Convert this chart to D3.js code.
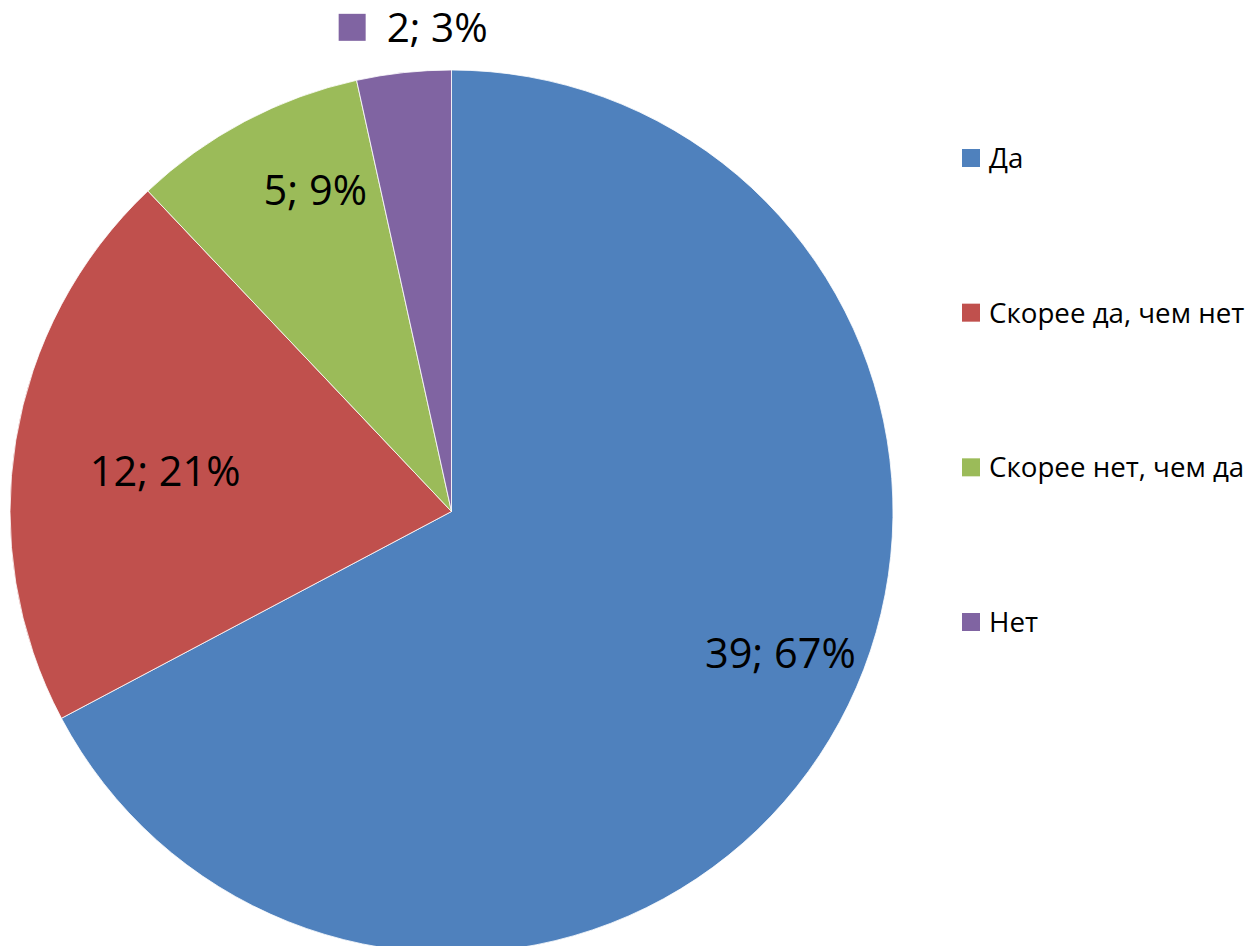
<!DOCTYPE html>
<html><head><meta charset="utf-8">
<script src="https://cdn.jsdelivr.net/npm/d3@7"></script>
<style>html,body{margin:0;padding:0;background:#fff;}svg{display:block;}</style>
</head><body>
<svg id="chart" width="1250" height="946"></svg>
<script>
const categories = ["Да", "Скорее да, чем нет", "Скорее нет, чем да", "Нет"];
const values = [39, 12, 5, 2];
const percentLabels = ["67%", "21%", "9%", "3%"];
const colors = ["#4F81BD", "#C0504D", "#9BBB59", "#8064A2"];

const svg = d3.select("#chart");
const cx = 451.5, cy = 511.5, R = 441.5;
const FONT = "'Open Sans', 'Noto Sans', sans-serif";

const pie = d3.pie().sort(null).value(d => d)(values);
const arc = d3.arc().innerRadius(0).outerRadius(R);

const g = svg.append("g").attr("transform", `translate(${cx},${cy})`);
g.selectAll("path.slice").data(pie).join("path")
  .attr("class", "slice")
  .attr("d", arc)
  .attr("fill", (d, i) => colors[i])
  .attr("stroke", "#fff").attr("stroke-width", 0.8);

// label layout (Excel best-fit style): angle in degrees clockwise from top, radius fraction
const labelLayout = [
  {a: 113.3, r: 0.811, outside: false},
  {a: 278.0, r: 0.655, outside: false},
  {a: 337.0, r: 0.790, outside: false},
  {a: 358.3, r: 1.096, outside: true}
];
pie.forEach((d, i) => {
  const L = labelLayout[i];
  const t = L.a * Math.PI / 180;
  const x = Math.sin(t) * R * L.r, y = -Math.cos(t) * R * L.r;
  const txt = values[i] + "; " + percentLabels[i];
  const lg = g.append("g").attr("transform", `translate(${x},${y})`);
  const text = lg.append("text")
    .attr("text-anchor", "middle")
    .attr("dy", "0.36em")
    .attr("font-family", FONT).attr("font-size", L.outside ? 40.5 : 41.5)
    .attr("fill", "#000").text(txt);
  if (L.outside) {
    const w = text.node().getComputedTextLength();
    lg.append("rect")
      .attr("x", -w / 2 - 48).attr("y", -14)
      .attr("width", 27).attr("height", 27)
      .attr("fill", colors[i]);
  }
});

// legend
const legend = svg.append("g").attr("transform", "translate(962,0)");
const ly = d3.scalePoint().domain(categories).range([158, 622]);
categories.forEach((c, i) => {
  const y = ly(c);
  legend.append("rect").attr("x", 0).attr("y", y - 9).attr("width", 18).attr("height", 18).attr("fill", colors[i]);
  legend.append("text").attr("x", 27).attr("y", y).attr("dy", "0.36em")
    .attr("font-family", FONT).attr("font-size", 27.7).attr("fill", "#000").text(c);
});
</script>
</body></html>
